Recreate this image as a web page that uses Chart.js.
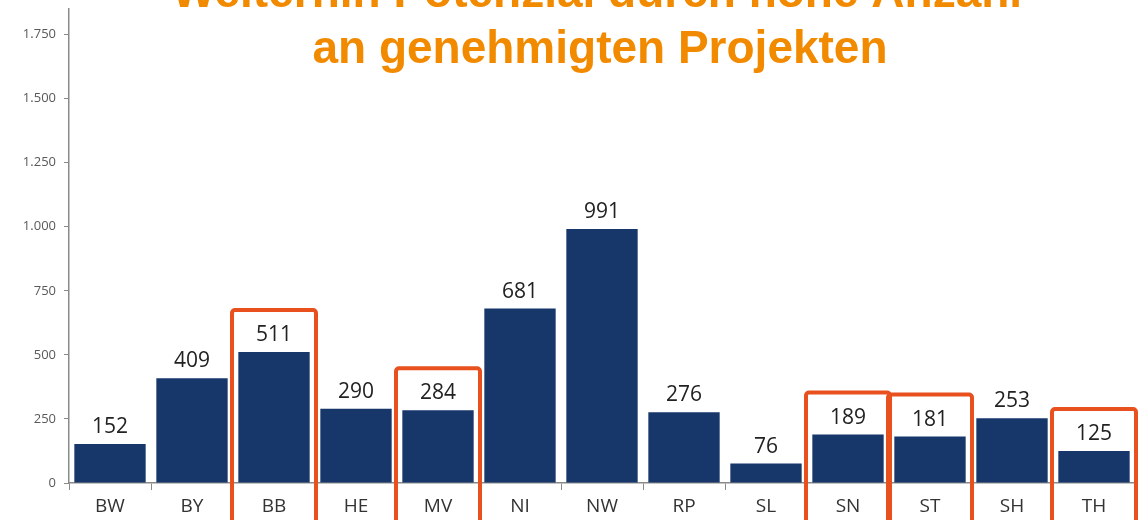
<!DOCTYPE html>
<html><head><meta charset="utf-8">
<script src="https://cdn.jsdelivr.net/npm/chart.js@4/dist/chart.umd.min.js"></script>
<style>html,body{margin:0;padding:0;background:#fff;}#wrap{width:1146px;height:520px;position:relative;}</style>
</head><body><div id="wrap"><canvas id="c" width="1146" height="520"></canvas></div>
<script>
const categories = ['BW','BY','BB','HE','MV','NI','NW','RP','SL','SN','ST','SH','TH'];
const values = [152,409,511,290,284,681,991,276,76,189,181,253,125];
const highlighted = ['BB','MV','SN','ST','TH'];
const titleLines = ['Weiterhin Potenzial durch hohe Anzahl','an genehmigten Projekten'];
const yTicks = [0,250,500,750,1000,1250,1500,1750];

const fmt = v => v.toLocaleString('de-DE');

const overlay = {
  id:'overlay',
  afterDatasetsDraw(chart){
    const ctx = chart.ctx, x = chart.scales.x, y = chart.scales.y;
    ctx.save();
    ctx.font = '21px "Open Sans", sans-serif';
    ctx.fillStyle = '#222';
    ctx.textAlign = 'center';
    ctx.textBaseline = 'alphabetic';
    values.forEach((v,i)=>{
      ctx.fillText(String(v), x.getPixelForValue(i), y.getPixelForValue(v) - 11);
    });
    ctx.strokeStyle = '#E8501E';
    ctx.lineWidth = 4;
    ctx.lineJoin = 'round';
    highlighted.forEach(c=>{
      const i = categories.indexOf(c);
      const cx = x.getPixelForValue(i);
      const top = y.getPixelForValue(values[i]) - 42;
      ctx.beginPath();
      ctx.roundRect ? ctx.roundRect(cx-42, top, 84, 540-top, 3) : ctx.rect(cx-42, top, 84, 540-top);
      ctx.stroke();
    });
    ctx.fillStyle = '#F28A00';
    ctx.font = 'bold 46px "Liberation Sans", Arial, sans-serif';
    ctx.textAlign = 'center';
    ctx.fillText(titleLines[0], 597, 7);
    ctx.fillText(titleLines[1], 600, 63);
    ctx.restore();
  }
};

new Chart(document.getElementById('c'), {
  type:'bar',
  data:{labels:categories, datasets:[{data:values, backgroundColor:'#17376B', barPercentage:0.87, categoryPercentage:1}]},
  options:{
    responsive:false, animation:false,
    layout:{padding:{top:9,right:11,left:0,bottom:0}},
    plugins:{legend:{display:false}, tooltip:{enabled:false}, title:{display:false}},
    scales:{
      x:{
        grid:{display:true, drawOnChartArea:false, offset:true, tickLength:7, color:'#8a8a8a', lineWidth:1},
        border:{display:true, color:'#8a8a8a', width:1.5},
        ticks:{color:'#333', font:{size:19, family:'"Open Sans", sans-serif'}, padding:5},
        afterFit(s){ s.height = 37; s.paddingLeft = 0; s.paddingRight = 0; }
      },
      y:{
        min:0, max:1850,
        afterBuildTicks(s){ s.ticks = yTicks.map(v=>({value:v})); },
        grid:{display:true, drawOnChartArea:false, tickLength:5, color:'#8a8a8a'},
        border:{display:true, color:'#8a8a8a', width:1.5},
        ticks:{color:'#595959', font:{size:13, family:'"Open Sans", sans-serif'}, padding:8, callback:v=>fmt(v)},
        afterFit(s){ s.width = 69; s.paddingTop = 0; s.paddingBottom = 0; }
      }
    }
  },
  plugins:[overlay]
});
</script></body></html>
